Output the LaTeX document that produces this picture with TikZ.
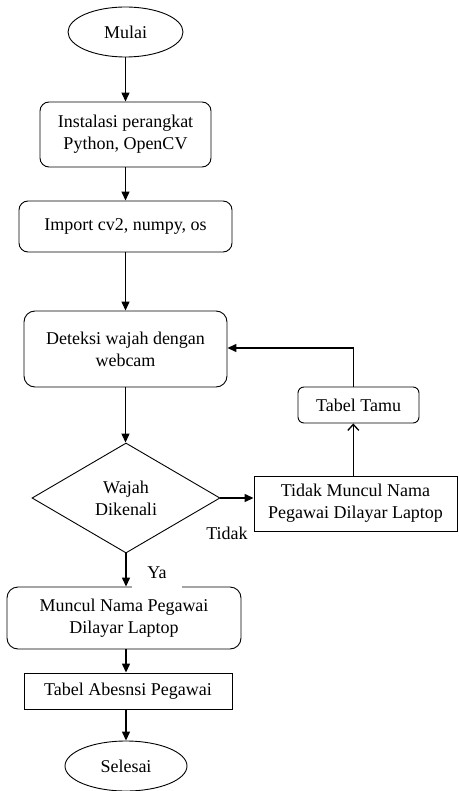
\documentclass[tikz,border=0pt]{standalone}
\usepackage{fontspec}
\setmainfont{Liberation Serif}
\usetikzlibrary{shapes.geometric,arrows.meta}
\begin{document}
\begin{tikzpicture}[x=1pt,y=-1pt,
  every node/.style={font=\fontsize{18}{22}\selectfont, align=center, inner sep=0pt},
  term/.style={draw, ellipse, line width=0.9pt},
  rbox/.style={draw, rounded corners=9pt, line width=0.9pt},
  sbox/.style={draw, line width=0.9pt},
  dec/.style={draw, diamond, line width=0.9pt},
  conn/.style={line width=1.3pt, -{Triangle[width=8pt,length=9pt]}},
  openconn/.style={line width=1.3pt, -{Straight Barb[width=11pt,length=6pt]}},
  lbl/.style={font=\fontsize{18}{22}\selectfont}
]
\useasboundingbox (0,0) rectangle (458,791);
\node[term, minimum width=115, minimum height=50] (mulai) at (125.5,32) {Mulai};
\node[rbox, minimum width=171, minimum height=65] (inst) at (125.5,134.5) {Instalasi perangkat\\Python, OpenCV};
\node[rbox, minimum width=213, minimum height=51] (imp) at (125.5,226.5) {Import cv2, numpy, os};
\node[rbox, rounded corners=11pt, minimum width=203, minimum height=76] (det) at (125.5,349) {Deteksi wajah dengan\\webcam};
\node[dec, minimum width=188, minimum height=110, aspect=1.7] (dia) at (126,498) {Wajah\\Dikenali};
\node[sbox, minimum width=203, minimum height=55] (tidak) at (355.5,503.5) {Tidak Muncul Nama\\Pegawai Dilayar Laptop};
\node[rbox, rounded corners=6pt, minimum width=121, minimum height=36] (tamu) at (358.5,405) {Tabel Tamu};
\node[rbox, rounded corners=11pt, minimum width=234, minimum height=62] (muncul) at (124,618) {Muncul Nama Pegawai\\Dilayar Laptop};
\node[sbox, minimum width=208, minimum height=36] (abs) at (128,691) {Tabel Abesnsi Pegawai};
\node[term, minimum width=122, minimum height=50] (selesai) at (126,766) {Selesai};

\draw[conn] (mulai.south) -- (mulai.south |- inst.north);
\draw[conn] (inst.south) -- (inst.south |- imp.north);
\draw[conn] (imp.south) -- (imp.south |- det.north);
\draw[conn] (det.south) -- (det.south |- dia.north);
\draw[conn] (dia.east) -- (dia.east -| tidak.west);
\coordinate (tt) at (353.3,0);
\draw[openconn] (tt |- tidak.north) -- (tt |- tamu.south);
\coordinate (back) at (353.3,348);
\draw[conn] (tt |- tamu.north) -- (back) -- (back -| det.east);
\draw[conn] (dia.south) -- (dia.south |- muncul.north);
\draw[conn] (muncul.south -| dia.south) -- (dia.south |- abs.north);
\draw[conn] (abs.south -| dia.south) -- (dia.south |- selesai.north);
\node[lbl] (tlabel) at (227,533) {Tidak};
\node[lbl, fill=white, minimum width=50, minimum height=34] (ylabel) at (157,573) {Ya};
\end{tikzpicture}
\end{document}
